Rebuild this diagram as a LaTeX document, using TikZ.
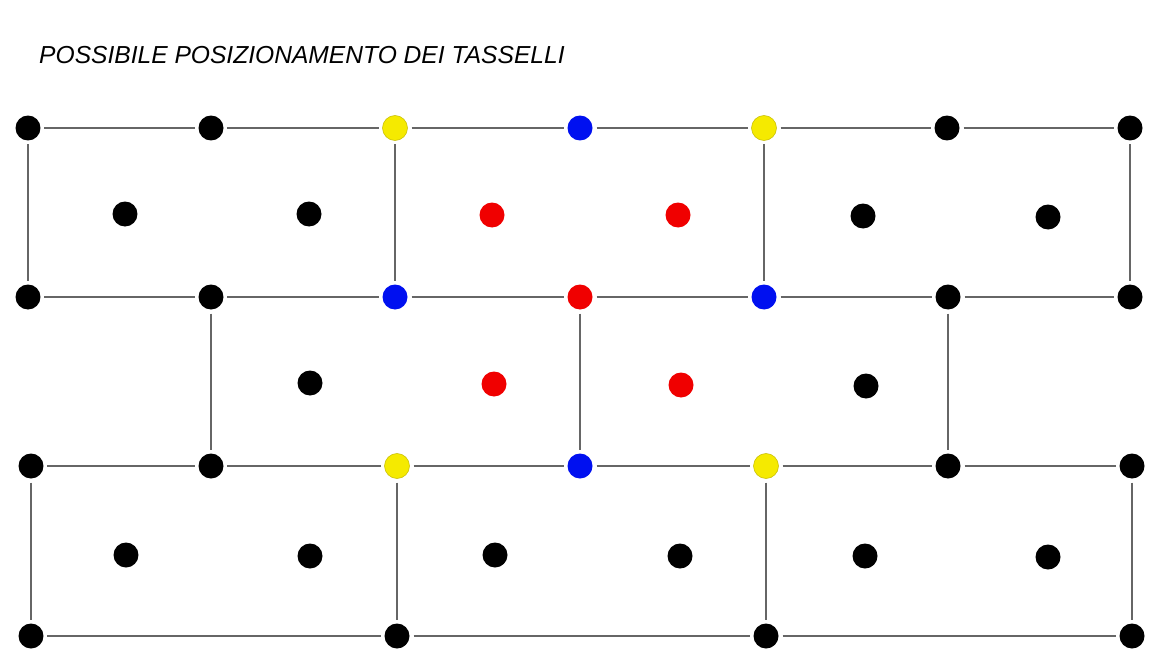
\documentclass[tikz,border=0pt]{standalone}
\usepackage{fontspec}
\newfontfamily\titlefont{Liberation Sans}
\usepackage{xcolor}
\usetikzlibrary{positioning}

\definecolor{dotyellow}{HTML}{F5EA00}
\definecolor{dotblue}{HTML}{0010F0}
\definecolor{dotred}{HTML}{F00000}
\definecolor{linegray}{HTML}{666666}

\begin{document}
\begin{tikzpicture}[
    x=0.02cm, y=-0.02cm,
    dot/.style={
        circle,
        fill=black,
        minimum size=0.5cm,
        inner sep=0pt,
        outer sep=0.08cm
    },
    ydot/.style={dot, fill=dotyellow, draw=dotyellow!80!black, line width=0.3pt},
    bdot/.style={dot, fill=dotblue},
    rdot/.style={dot, fill=dotred},
    grid/.style={draw=linegray, line width=1.4pt}
]
\useasboundingbox (0,0) rectangle (1149,649);

% Title
\node[anchor=west, font=\titlefont\itshape\fontsize{14}{16}\selectfont] (title) at (33,55) {POSSIBILE POSIZIONAMENTO DEI TASSELLI};

% First row of corners
\node[dot] (a1) at (28,128) {};
\node[dot] (a2) at (211,128) {};
\node[ydot] (a3) at (395,128) {};
\node[bdot] (a4) at (580,128) {};
\node[ydot] (a5) at (764,128) {};
\node[dot] (a6) at (947,128) {};
\node[dot] (a7) at (1130,128) {};

% First row of tiles
\node[dot] (m11) at (125,214) {};
\node[dot] (m12) at (309,214) {};
\node[rdot] (m13) at (492,215) {};
\node[rdot] (m14) at (678,215) {};
\node[dot] (m15) at (863,216) {};
\node[dot] (m16) at (1048,217) {};

% Second row of corners
\node[dot] (b1) at (28,297) {};
\node[dot] (b2) at (211,297) {};
\node[bdot] (b3) at (395,297) {};
\node[rdot] (b4) at (580,297) {};
\node[bdot] (b5) at (764,297) {};
\node[dot] (b6) at (948,297) {};
\node[dot] (b7) at (1130,297) {};

% Second row of tiles
\node[dot] (m21) at (310,383) {};
\node[rdot] (m22) at (494,384) {};
\node[rdot] (m23) at (681,385) {};
\node[dot] (m24) at (866,386) {};

% Third row of corners
\node[dot] (c1) at (31,466) {};
\node[dot] (c2) at (211,466) {};
\node[ydot] (c3) at (397,466) {};
\node[bdot] (c4) at (580,466) {};
\node[ydot] (c5) at (766,466) {};
\node[dot] (c6) at (948,466) {};
\node[dot] (c7) at (1132,466) {};

% Third row of tiles
\node[dot] (m31) at (126,555) {};
\node[dot] (m32) at (310,556) {};
\node[dot] (m33) at (495,555) {};
\node[dot] (m34) at (680,556) {};
\node[dot] (m35) at (865,556) {};
\node[dot] (m36) at (1048,557) {};

% Bottom row of corners
\node[dot] (d1) at (31,636) {};
\node[dot] (d2) at (397,636) {};
\node[dot] (d3) at (766,636) {};
\node[dot] (d4) at (1132,636) {};

% Horizontal joints
\draw[grid] (a1) -- (a2) (a2) -- (a3) (a3) -- (a4) (a4) -- (a5) (a5) -- (a6) (a6) -- (a7);
\draw[grid] (b1) -- (b2) (b2) -- (b3) (b3) -- (b4) (b4) -- (b5) (b5) -- (b6) (b6) -- (b7);
\draw[grid] (c1) -- (c2) (c2) -- (c3) (c3) -- (c4) (c4) -- (c5) (c5) -- (c6) (c6) -- (c7);
\draw[grid] (d1) -- (d2) (d2) -- (d3) (d3) -- (d4);

% Vertical joints
\draw[grid] (a1) -- (b1) (a3) -- (b3) (a5) -- (b5) (a7) -- (b7);
\draw[grid] (b2) -- (c2) (b4) -- (c4) (b6) -- (c6);
\draw[grid] (c1) -- (d1) (c3) -- (d2) (c5) -- (d3) (c7) -- (d4);

\end{tikzpicture}
\end{document}
